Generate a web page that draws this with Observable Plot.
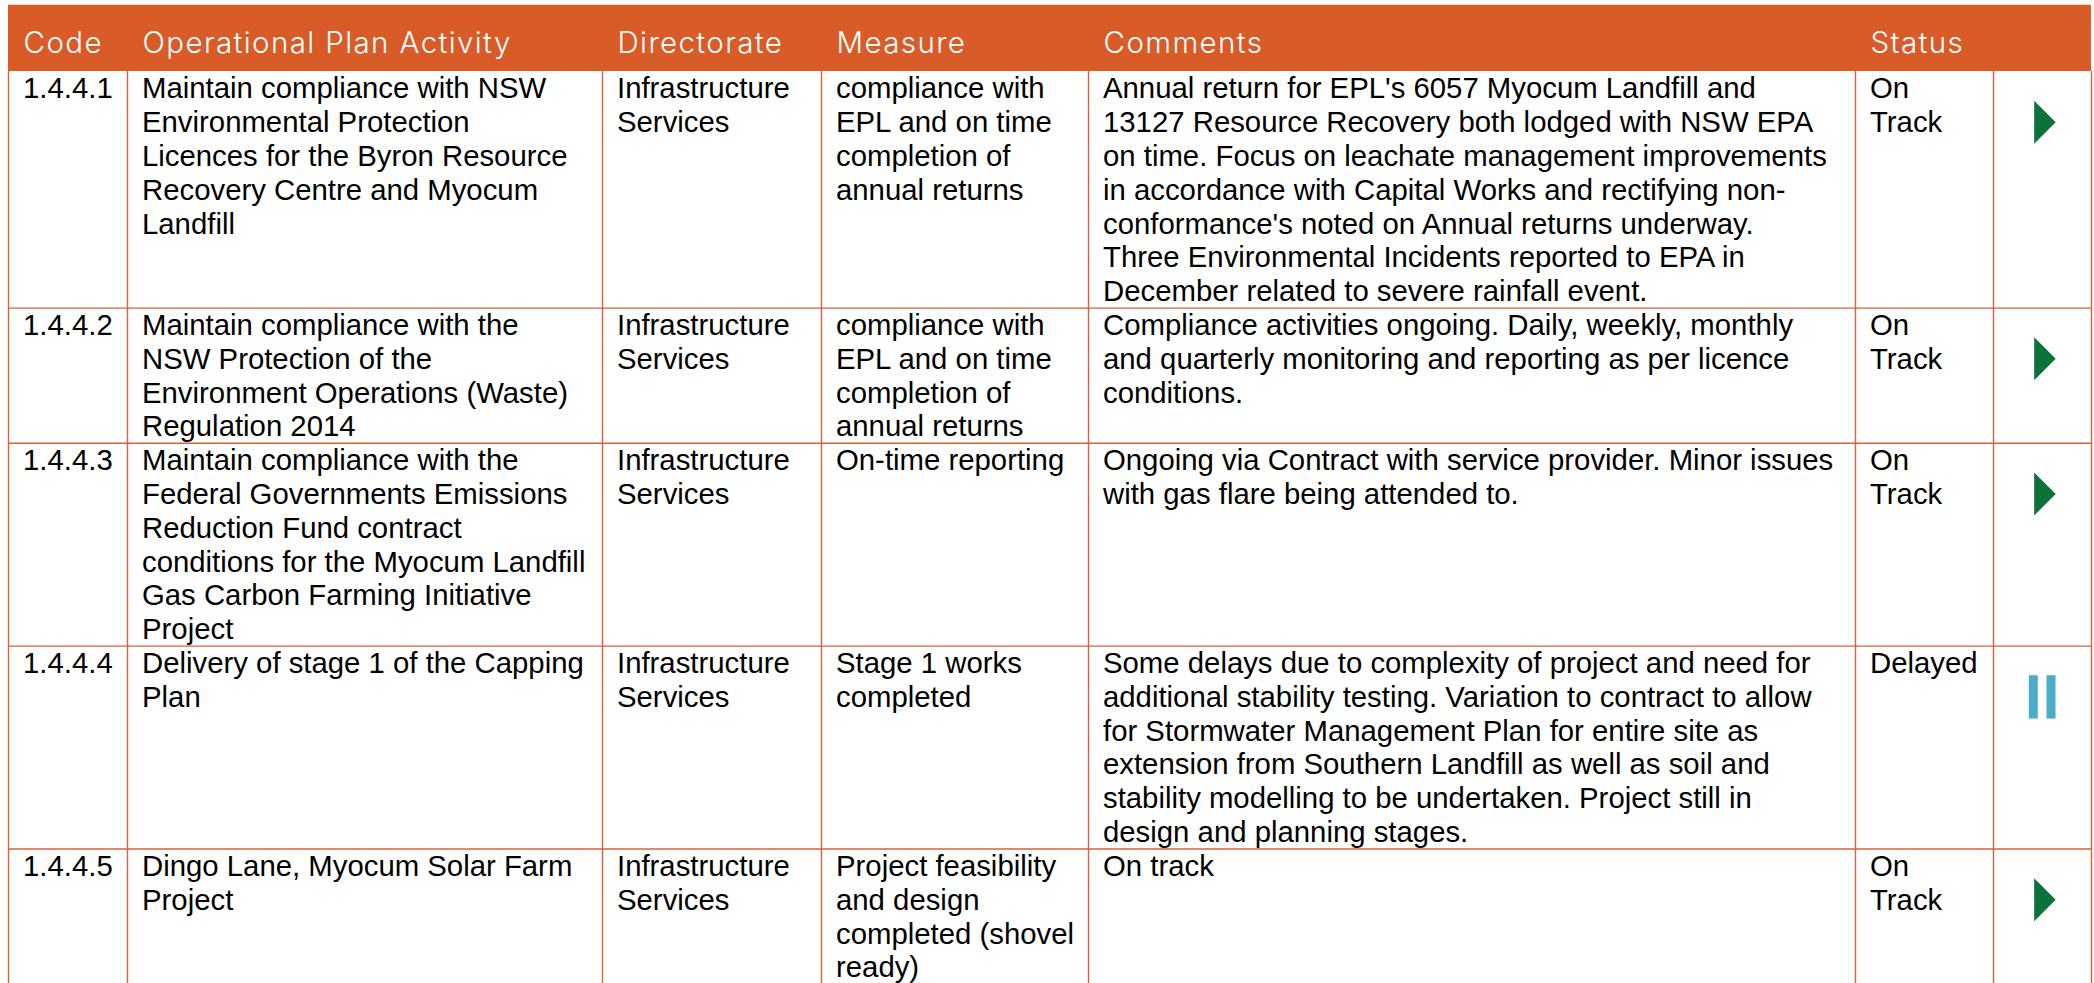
<!DOCTYPE html>
<html>
<head>
<meta charset="utf-8">
<script src="https://cdn.jsdelivr.net/npm/d3@7"></script>
<script src="https://cdn.jsdelivr.net/npm/@observablehq/plot@0.6"></script>
<style>
html,body{margin:0;padding:0;background:#fff;overflow:hidden}
svg{display:block}
</style>
</head>
<body>
<div id="chart"></div>
<script>
const headers = ["Code","Operational Plan Activity","Directorate","Measure","Comments","Status"];
const codes = ["1.4.4.1","1.4.4.2","1.4.4.3","1.4.4.4","1.4.4.5"];
const activities = [
"Maintain compliance with NSW\nEnvironmental Protection\nLicences for the Byron Resource\nRecovery Centre and Myocum\nLandfill",
"Maintain compliance with the\nNSW Protection of the\nEnvironment Operations (Waste)\nRegulation 2014",
"Maintain compliance with the\nFederal Governments Emissions\nReduction Fund contract\nconditions for the Myocum Landfill\nGas Carbon Farming Initiative\nProject",
"Delivery of stage 1 of the Capping\nPlan",
"Dingo Lane, Myocum Solar Farm\nProject"
];
const directorates = ["Infrastructure\nServices","Infrastructure\nServices","Infrastructure\nServices","Infrastructure\nServices","Infrastructure\nServices"];
const measures = [
"compliance with\nEPL and on time\ncompletion of\nannual returns",
"compliance with\nEPL and on time\ncompletion of\nannual returns",
"On-time reporting",
"Stage 1 works\ncompleted",
"Project feasibility\nand design\ncompleted (shovel\nready)"
];
const comments = [
"Annual return for EPL's 6057 Myocum Landfill and\n13127 Resource Recovery both lodged with NSW EPA\non time. Focus on leachate management improvements\nin accordance with Capital Works and rectifying non-\nconformance's noted on Annual returns underway.\nThree Environmental Incidents reported to EPA in\nDecember related to severe rainfall event.",
"Compliance activities ongoing. Daily, weekly, monthly\nand quarterly monitoring and reporting as per licence\nconditions.",
"Ongoing via Contract with service provider. Minor issues\nwith gas flare being attended to.",
"Some delays due to complexity of project and need for\nadditional stability testing. Variation to contract to allow\nfor Stormwater Management Plan for entire site as\nextension from Southern Landfill as well as soil and\nstability modelling to be undertaken. Project still in\ndesign and planning stages.",
"On track"
];
const statuses = ["On\nTrack","On\nTrack","On\nTrack","Delayed","On\nTrack"];
const rowLineCounts = [7,4,6,6,4];

const columnEdges = [0,1,2,3,4,5,6,7];
const rowStarts = d3.cumsum([0,...rowLineCounts]).slice(0,-1);
const columns = [codes,activities,directorates,measures,comments,statuses];
const cells = columns.flatMap((col,c)=>col.map((text,r)=>({col:c,row:rowStarts[r],text})));
const icons = statuses.map((s,r)=>({status:s,row:rowStarts[r]}));

const INK = "#000000", LINE = "#d4633a", HEAD = "#d95b28", GREEN = "#0b733a", BLUE = "#4bacc6";
const triangle = {draw(ctx){ctx.moveTo(-8.3,-21.5);ctx.lineTo(13.2,0);ctx.lineTo(-8.3,21.5);ctx.closePath();}};
const pause = {draw(ctx){
  ctx.rect(-13.7,-21.6,9,43.2);
  ctx.rect(4,-21.6,9,43.2);
}};

const chart = Plot.plot({
  width:2094, height:983,
  marginTop:0, marginRight:0, marginBottom:0, marginLeft:0,
  x:{type:"linear", domain:columnEdges, range:[8,127,602,821,1088,1855,1993,2091], axis:null},
  y:{type:"linear", domain:[-2.1,26.98], range:[0,983], axis:null},
  style:{background:"#fff", overflow:"hidden"},
  marks:[
    Plot.rect([0],{x1:0,x2:7,y1:-1.96,y2:0,fill:HEAD}),
    Plot.ruleX(columnEdges,{x:d=>d,y1:0,y2:27,stroke:LINE,strokeWidth:1.4}),
    Plot.ruleY(rowStarts.slice(1),{y:d=>d,x1:0,x2:7,stroke:LINE,strokeWidth:1.4}),
    Plot.text(headers,{x:(d,i)=>i,y:-0.84,text:d=>d,textAnchor:"start",lineAnchor:"middle",dx:15,
      fontFamily:"Inter",fontWeight:300,fontSize:29.5,fill:"#fff",
      render(index,scales,values,dims,ctx,next){
        const g = next(index,scales,values,dims,ctx);
        g.style.letterSpacing = "1.4px";
        return g;
      }}),
    Plot.text(cells,{x:"col",y:"row",text:"text",textAnchor:"start",lineAnchor:"top",dx:14.5,dy:3,
      lineHeight:1.152,fontFamily:"Liberation Sans",fontSize:29.33,fill:INK}),
    Plot.dot(icons.filter(d=>d.status!=="Delayed"),{x:6.5,y:d=>d.row+1.5,symbol:triangle,fill:GREEN,r:10}),
    Plot.dot(icons.filter(d=>d.status==="Delayed"),{x:6.5,y:d=>d.row+1.5,symbol:pause,fill:BLUE,r:10})
  ]
});
document.getElementById("chart").appendChild(chart);
</script>
</body>
</html>
